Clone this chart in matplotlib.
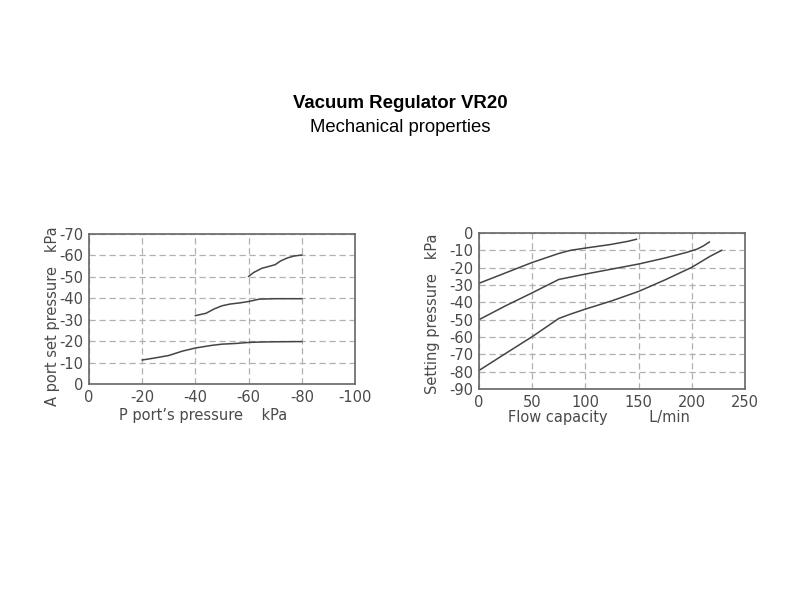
import numpy as np
import matplotlib.pyplot as plt
###############################################################################
plt.rcParams['font.family'] = ['DejaVu Sans']
TEXT_COLOR = '#4a4a4a'
LINE_COLOR = '#444444'
GRID_COLOR = '#b0b0b0'
###############################################################################
# 왼쪽: P port pressure vs A port set pressure (kPa)
p_low_x = [-20, -25, -30, -35, -40, -46, -50, -55, -60, -65, -70, -80]
p_low_y = [-11.2, -12.2, -13.3, -15.3, -16.8, -18.0, -18.6, -18.9, -19.4, -19.6, -19.7, -19.8]

p_mid_x = [-40, -44, -47, -50, -53, -57, -60, -64, -70, -80]
p_mid_y = [-31.9, -33.0, -35.0, -36.5, -37.3, -37.9, -38.5, -39.6, -39.8, -39.8]

p_high_x = [-60, -62, -65, -68, -70, -72, -74.5, -77, -80]
p_high_y = [-50.2, -52.1, -54.0, -55.0, -55.7, -57.4, -58.8, -59.7, -60.2]

# 오른쪽: Flow capacity vs setting pressure
f_top_x = [0, 25, 50, 75, 86, 100, 123, 140, 148]
f_top_y = [-29.0, -23.0, -17.0, -11.8, -10.0, -8.7, -6.7, -4.8, -3.6]

f_mid_x = [0, 25, 50, 75, 100, 150, 175, 195, 205, 211, 216.5]
f_mid_y = [-50.0, -42.0, -34.5, -26.8, -23.7, -17.9, -14.4, -11.2, -9.3, -7.4, -5.2]

f_bot_x = [0, 25, 50, 75, 86, 100, 125, 150, 175, 200, 217, 228]
f_bot_y = [-79.3, -69.5, -59.8, -49.3, -46.8, -43.9, -39.1, -33.7, -27.0, -19.8, -13.5, -10.0]
###############################################################################
fig = plt.figure(figsize=(8, 6), dpi=100)
fig.text(0.5, 1 - 103 / 600, 'Vacuum Regulator VR20', ha='center', va='center',
         fontsize=13.4, fontweight='bold', family='Liberation Sans', color='black')
fig.text(0.5, 1 - 128 / 600, 'Mechanical properties', ha='center', va='center',
         fontsize=13.3, family='Liberation Sans', color='black')


def StyleAxes(ax):
    for sp in ax.spines.values():
        sp.set_color('#666666')
        sp.set_linewidth(1.2)
    ax.tick_params(length=0, pad=4, labelsize=10.5, colors=TEXT_COLOR)
    ax.grid(True, linestyle=(0, (5, 3)), color=GRID_COLOR, linewidth=0.9)
    ax.set_axisbelow(True)
# def StyleAxes


ax1 = fig.add_axes([89 / 800, 1 - 384 / 600, 266 / 800, 150 / 600])
for xs, ys in [(p_low_x, p_low_y), (p_mid_x, p_mid_y), (p_high_x, p_high_y)]:
    ax1.plot(xs, ys, color=LINE_COLOR, linewidth=1.1)
ax1.set_xlim(0, -100)
ax1.set_ylim(0, -70)
ax1.set_xticks(np.arange(0, -101, -20))
ax1.set_yticks(np.arange(0, -71, -10))
ax1.set_xticklabels(['0'] + ['-%d' % v for v in range(20, 101, 20)])
ax1.set_yticklabels(['0'] + ['-%d' % v for v in range(10, 71, 10)])
StyleAxes(ax1)
ax1.set_xlabel('P port’s pressure    kPa', fontsize=10.5, color=TEXT_COLOR)
ax1.xaxis.set_label_coords(0.43, -0.16)
ax1.set_ylabel('A port set pressure   kPa', fontsize=10.5, color=TEXT_COLOR)
ax1.yaxis.set_label_coords(-0.11, 0.45)

ax2 = fig.add_axes([479 / 800, 1 - 389 / 600, 266 / 800, 156 / 600])
for xs, ys in [(f_top_x, f_top_y), (f_mid_x, f_mid_y), (f_bot_x, f_bot_y)]:
    ax2.plot(xs, ys, color=LINE_COLOR, linewidth=1.1)
ax2.set_xlim(0, 250)
ax2.set_ylim(-90, 0)
ax2.set_xticks(np.arange(0, 251, 50))
ax2.set_yticks(np.arange(-90, 1, 10))
ax2.set_yticklabels(['-%d' % v for v in range(90, 0, -10)] + ['0'])
StyleAxes(ax2)
ax2.set_xlabel('Flow capacity         L/min', fontsize=10.5, color=TEXT_COLOR)
ax2.xaxis.set_label_coords(0.452, -0.135)
ax2.set_ylabel('Setting pressure   kPa', fontsize=10.5, color=TEXT_COLOR)
ax2.yaxis.set_label_coords(-0.145, 0.48)

fig.savefig('out.png', dpi=100)
